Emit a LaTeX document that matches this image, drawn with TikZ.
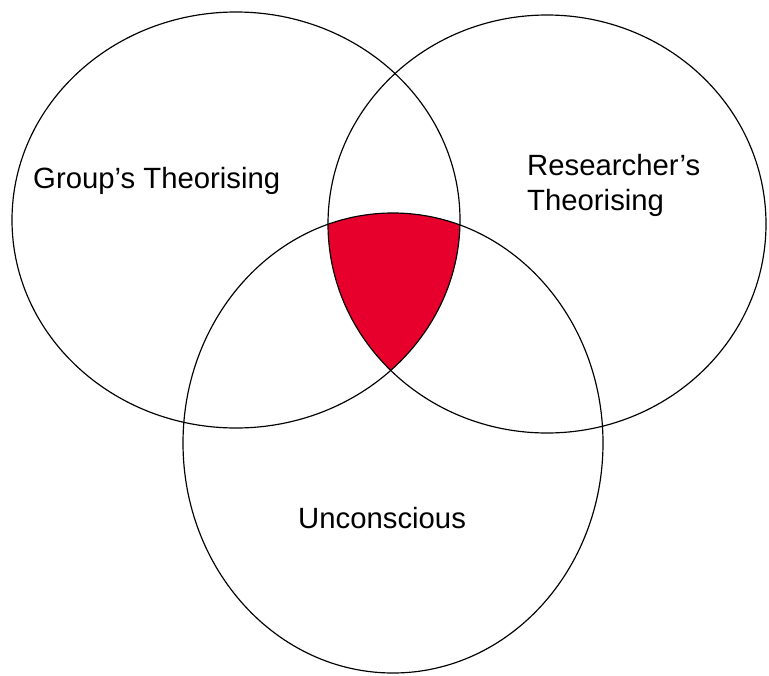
\documentclass[tikz,border=0pt]{standalone}
\usepackage{fontspec}
\setmainfont{Liberation Sans}
\definecolor{vennRed}{HTML}{E8002C}
\tikzset{
  set line/.style={black, line width=1pt},
  set label/.style={font=\fontsize{25}{30}\selectfont, inner sep=0pt, align=left},
}
\begin{document}
\begin{tikzpicture}[x=0.03cm, y=-0.03cm]
  \useasboundingbox (0,0) rectangle (769,675);
  % the three sets
  \def\groupset{(236,220) ellipse [x radius=224, y radius=208]}
  \def\resset{(547,224) ellipse [x radius=219, y radius=209]}
  \def\uncset{(393,443) ellipse [x radius=210, y radius=230]}

  % common part of all three
  \begin{scope}
    \clip \groupset;
    \clip \resset;
    \fill[vennRed] \uncset;
  \end{scope}

  \draw[set line] \groupset;
  \draw[set line] \resset;
  \draw[set line] \uncset;

  % labels
  \node[set label, anchor=base west] (group) at (33,188) {Group's Theorising};
  \node[set label, anchor=west] (researcher) at (527,185) {Researcher's\\Theorising};
  \node[set label, anchor=base west] (unconscious) at (298,528) {Unconscious};
\end{tikzpicture}
\end{document}
